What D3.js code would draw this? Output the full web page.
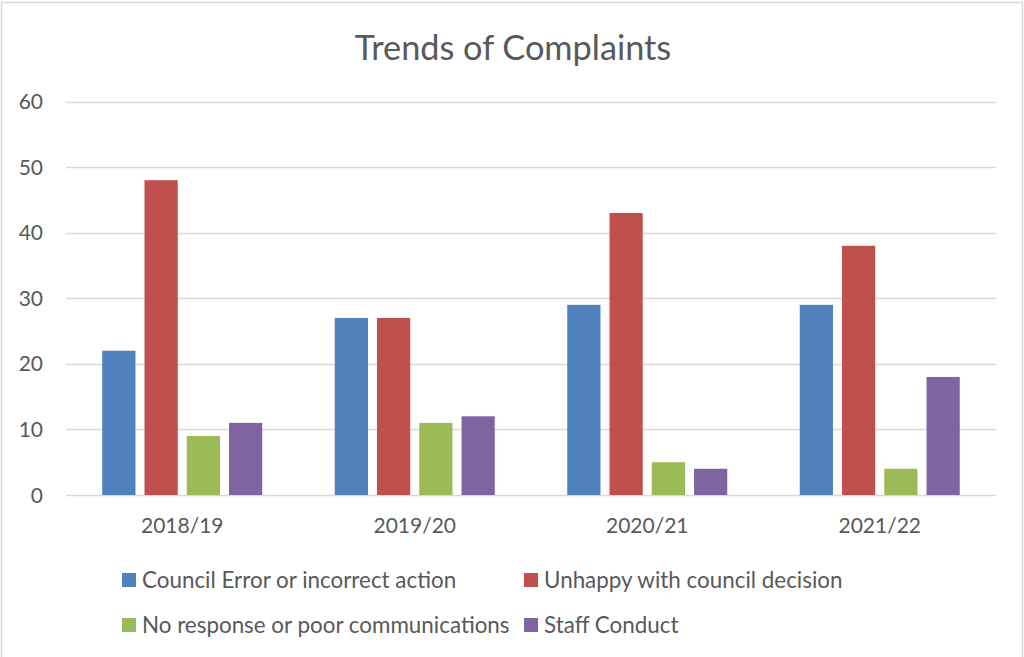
<!DOCTYPE html>
<html>
<head>
<meta charset="utf-8">
<script src="https://cdn.jsdelivr.net/npm/d3@7"></script>
<style>
  html, body { margin: 0; padding: 0; background: #fff; }
  svg { display: block; }
  text { font-family: Lato, "Open Sans", sans-serif; fill: #595959; }
</style>
</head>
<body>
<svg id="chart" width="1024" height="657"></svg>
<script>
const title = "Trends of Complaints";
const categories = ["2018/19", "2019/20", "2020/21", "2021/22"];
const seriesNames = [
  "Council Error or incorrect action",
  "Unhappy with council decision",
  "No response or poor communications",
  "Staff Conduct"
];
const councilError = [22, 27, 29, 29];
const unhappyDecision = [48, 27, 43, 38];
const noResponse = [9, 11, 5, 4];
const staffConduct = [11, 12, 4, 18];
const yTicks = [0, 10, 20, 30, 40, 50, 60];
const colors = ["#4F81BD", "#C0504D", "#9BBB59", "#8064A2"];

const seriesValues = [councilError, unhappyDecision, noResponse, staffConduct];

const svg = d3.select("#chart");

// outer border
svg.append("rect")
  .attr("x", 1.5).attr("y", 2.5).attr("width", 1021).attr("height", 660)
  .attr("fill", "#fff").attr("stroke", "#D9D9D9").attr("stroke-width", 1.5);

const plot = { left: 66, right: 996, top: 101.5, bottom: 495 };

const y = d3.scaleLinear().domain([0, 60]).range([plot.bottom, plot.top]);
const x0 = d3.scaleBand().domain(categories).range([plot.left, plot.right]).paddingInner(0).paddingOuter(0);
const groupWidth = 160;
const x1 = d3.scaleBand().domain(d3.range(seriesNames.length)).range([0, groupWidth]).paddingInner(0.214).paddingOuter(0);

// gridlines
svg.append("g").selectAll("line").data(yTicks).join("line")
  .attr("x1", plot.left).attr("x2", plot.right)
  .attr("y1", d => Math.round(y(d)) + 0.5).attr("y2", d => Math.round(y(d)) + 0.5)
  .attr("stroke", "#D9D9D9").attr("stroke-width", 1.5);

// y labels
svg.append("g").selectAll("text").data(yTicks).join("text")
  .attr("x", 43).attr("y", d => y(d))
  .attr("dy", "0.36em")
  .attr("text-anchor", "end")
  .style("font-size", "21px")
  .text(d => d);

// bars
const groups = svg.append("g").selectAll("g").data(categories).join("g")
  .attr("transform", c => `translate(${x0(c) + (x0.bandwidth() - groupWidth) / 2},0)`);

groups.selectAll("rect")
  .data((c, ci) => seriesValues.map((vals, si) => ({ si, v: vals[ci] })))
  .join("rect")
  .attr("x", d => x1(d.si))
  .attr("width", x1.bandwidth())
  .attr("y", d => y(d.v))
  .attr("height", d => y(0) - y(d.v))
  .attr("fill", d => colors[d.si]);

// x labels
svg.append("g").selectAll("text").data(categories).join("text")
  .attr("x", c => x0(c) + x0.bandwidth() / 2)
  .attr("y", 533)
  .attr("text-anchor", "middle")
  .style("font-size", "21px")
  .text(c => c);

// title
svg.append("text")
  .attr("x", 513).attr("y", 60)
  .attr("text-anchor", "middle")
  .style("font-size", "34.3px")
  .text(title);

// legend
const legendPos = [[122, 573], [524, 573], [122, 618], [524, 618]];
const leg = svg.append("g").selectAll("g").data(seriesNames).join("g")
  .attr("transform", (d, i) => `translate(${legendPos[i][0]},${legendPos[i][1]})`);
leg.append("rect").attr("width", 14).attr("height", 14).attr("fill", (d, i) => colors[i]);
leg.append("text").attr("x", 20).attr("y", 7).attr("dy", "0.36em")
  .style("font-size", "22.4px")
  .text(d => d);
</script>
</body>
</html>
